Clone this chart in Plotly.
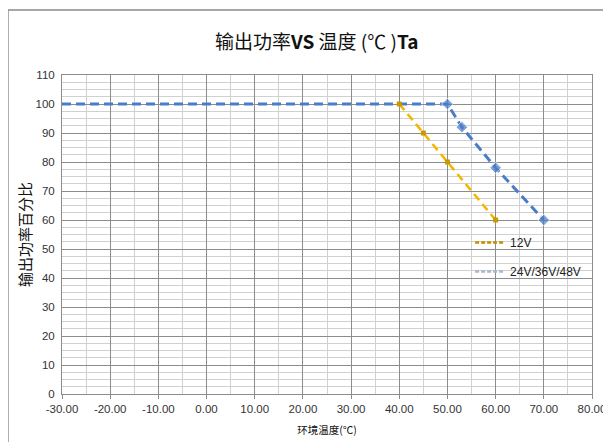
import plotly.graph_objects as go

# Data
temp_24v = [-30, 50, 53, 60, 70]
power_24v = [100, 100, 92, 78, 60]
temp_12v = [40, 45, 50, 60]
power_12v = [100, 90, 80, 60]
x_ticks = [-30, -20, -10, 0, 10, 20, 30, 40, 50, 60, 70, 80]
x_tick_labels = ["%.2f" % v for v in x_ticks]
y_ticks = list(range(0, 111, 10))

gold = "#F2B800"
blue = "#4A7CC8"
tickfont = dict(family="Liberation Sans Narrow, Liberation Sans, Arial", size=11.5, color="#333")
cjk = "Noto Sans CJK SC"

fig = go.Figure()
fig.add_trace(go.Scatter(
    x=temp_24v, y=power_24v, mode="lines+markers", showlegend=False,
    line=dict(color=blue, width=3, dash="9px,5px"),
    marker=dict(symbol="diamond", size=[0, 9, 9, 9, 9], color=blue)))
fig.add_trace(go.Scatter(
    x=temp_12v, y=power_12v, mode="lines+markers", showlegend=False,
    line=dict(color=gold, width=2.5, dash="8px,5px"),
    marker=dict(symbol="square", size=5, color="#C89A00")))
# legend entries
fig.add_trace(go.Scatter(x=[None], y=[None], mode="lines", name="12V", legendgroup="a",
                         line=dict(color="#C09000", width=2.5, dash="4px,2px")))
fig.add_trace(go.Scatter(x=[None], y=[None], mode="lines", name="24V/36V/48V", legendgroup="b",
                         line=dict(color="#A8B8D0", width=2.5, dash="4px,2px")))

fig.update_layout(
    width=603, height=434,
    margin=dict(l=54, r=19, t=67, b=48, autoexpand=False),
    paper_bgcolor="white", plot_bgcolor="white",
    title=dict(text="输出功率<b>VS</b> 温度 (℃ )<b>Ta</b>", x=0.512, xanchor="center",
               y=0.922, yanchor="middle",
               font=dict(family=cjk, size=19, color="#111")),
    legend=dict(x=0.77, y=0.52, xanchor="left", yanchor="top",
                bgcolor="rgba(0,0,0,0)", tracegroupgap=10, itemwidth=30,
                font=dict(family="Liberation Sans Narrow, Liberation Sans", size=12, color="#222")),
    xaxis=dict(range=[-30, 80], tickvals=x_ticks, ticktext=x_tick_labels, automargin=False,
               showgrid=True, gridcolor="#8c8c8c", gridwidth=1,
               minor=dict(dtick=5, showgrid=True, gridcolor="#d0d0d0", gridwidth=1),
               ticks="outside", ticklen=4, tickcolor="#8c8c8c",
               showline=True, linecolor="#8c8c8c", mirror=True, zeroline=False,
               tickfont=tickfont,
               title=dict(text="环境温度(℃)", font=dict(family=cjk, size=10.5, color="#111"), standoff=12)),
    yaxis=dict(range=[0, 110], tickvals=y_ticks, automargin=False,
               showgrid=True, gridcolor="#8c8c8c", gridwidth=1,
               minor=dict(dtick=2.5, showgrid=True, gridcolor="#d0d0d0", gridwidth=1),
               ticks="", ticklabelstandoff=4,
               showline=True, linecolor="#8c8c8c", mirror=True, zeroline=False,
               tickfont=tickfont,
               title=dict(text="输出功率百分比", font=dict(family=cjk, size=15, color="#111"), standoff=0)),
    shapes=[dict(type="rect", xref="paper", yref="paper", x0=-0.102, x1=1.2, y0=-0.3, y1=1.204,
                 line=dict(color="#8a8a8a", width=1.5), layer="below")],
)
fig.write_html("out.html")
